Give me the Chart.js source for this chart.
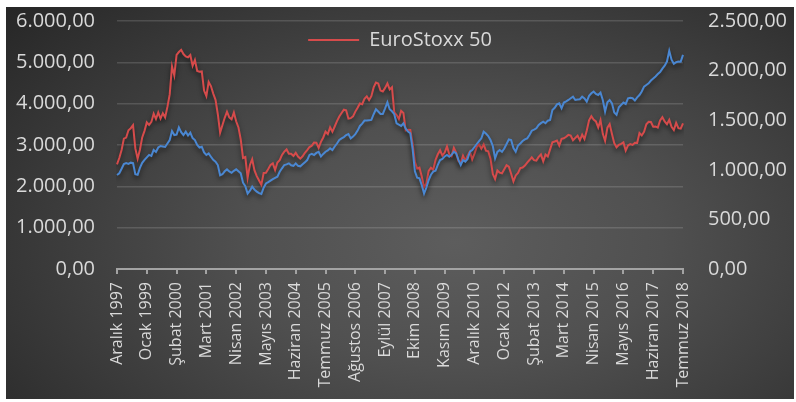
<!DOCTYPE html>
<html lang="tr">
<head>
<meta charset="utf-8">
<title>EuroStoxx 50</title>
<script src="https://cdn.jsdelivr.net/npm/chart.js@4.4.1/dist/chart.umd.min.js"></script>
<style>
  html, body { margin: 0; padding: 0; background: #ffffff; }
  #kutu {
    position: absolute; left: 6px; top: 7px; width: 788px; height: 392px;
    background: radial-gradient(ellipse 75% 90% at 57% 60%, #5d5d5d 0%, #505050 35%, #3a3a3a 70%, #272727 100%);
  }
</style>
</head>
<body>
<div id="kutu"><canvas id="grafik"></canvas></div>
<script>
// --- Veriler (aylık, Aralık 1997 - Temmuz 2018) ---
const ayAdlari = ['Ocak', 'Şubat', 'Mart', 'Nisan', 'Mayıs', 'Haziran', 'Temmuz', 'Ağustos', 'Eylül', 'Ekim', 'Kasım', 'Aralık'];
const baslangicYil = 1997, baslangicAy = 11, aySayisi = 248;
const etiketAdimi = 13; // her 13. ayda bir etiket

// EuroStoxx 50 (sol eksen)
const euroStoxx50 = [
  2532,
  2685, 2878, 3153, 3180, 3358, 3406, 3480, 2918, 2670, 2887, 3183, 3342,
  3547, 3485, 3559, 3757, 3629, 3788, 3638, 3769, 3669, 3922, 4223, 4904,
  4684, 5182, 5249, 5303, 5200, 5145, 5122, 5176, 4915, 5057, 4790, 4772,
  4779, 4318, 4185, 4526, 4426, 4243, 4092, 3744, 3297, 3478, 3658, 3806,
  3670, 3624, 3785, 3574, 3425, 3133, 2686, 2709, 2204, 2518, 2657, 2386,
  2248, 2140, 2036, 2325, 2330, 2419, 2519, 2556, 2395, 2575, 2631, 2760,
  2839, 2893, 2787, 2788, 2736, 2811, 2720, 2671, 2726, 2811, 2877, 2951,
  2984, 3058, 3055, 2930, 3076, 3182, 3326, 3263, 3429, 3320, 3448, 3579,
  3691, 3775, 3854, 3839, 3637, 3649, 3692, 3808, 3899, 4004, 3987, 4120,
  4178, 4088, 4182, 4393, 4513, 4489, 4316, 4295, 4382, 4490, 4346, 4400,
  3792, 3724, 3628, 3826, 3777, 3353, 3367, 3365, 3038, 2591, 2430, 2451,
  2236, 1976, 2071, 2375, 2451, 2401, 2638, 2775, 2872, 2743, 2818, 2966,
  2776, 2728, 2931, 2817, 2610, 2574, 2742, 2623, 2748, 2844, 2650, 2793,
  2954, 3013, 2911, 3012, 2862, 2849, 2670, 2302, 2179, 2385, 2330, 2317,
  2416, 2512, 2477, 2306, 2119, 2264, 2325, 2440, 2454, 2503, 2575, 2636,
  2703, 2634, 2624, 2712, 2770, 2603, 2768, 2721, 2893, 3068, 3086, 3109,
  2989, 3149, 3162, 3198, 3245, 3229, 3116, 3173, 3226, 3114, 3251, 3146,
  3351, 3599, 3697, 3615, 3570, 3424, 3601, 3270, 3101, 3418, 3506, 3268,
  3045, 2946, 3005, 3028, 3063, 2865, 2990, 3023, 3002, 3055, 3052, 3291,
  3231, 3320, 3501, 3560, 3555, 3442, 3449, 3421, 3595, 3674, 3570, 3504,
  3609, 3439, 3362, 3536, 3407, 3396, 3525
];

// Mavi seri (sağ eksen)
const dunyaEndeksi = [
  948,
  965, 1010, 1058, 1068, 1060, 1072, 1068, 955, 950, 1020, 1070, 1100,
  1125, 1150, 1140, 1200, 1180, 1225, 1240, 1235, 1230, 1265, 1300, 1390,
  1350, 1355, 1428, 1380, 1350, 1384, 1345, 1374, 1320, 1300, 1250, 1225,
  1233, 1175, 1149, 1165, 1132, 1100, 1082, 1048, 945, 955, 985, 1004,
  983, 970, 990, 1005, 985, 965, 870, 835, 760, 790, 830, 800,
  780, 765, 756, 820, 862, 875, 890, 905, 918, 930, 980, 1015,
  1048, 1055, 1065, 1045, 1040, 1065, 1040, 1035, 1055, 1075, 1098, 1150,
  1160, 1149, 1170, 1182, 1135, 1160, 1182, 1195, 1216, 1199, 1235, 1265,
  1300, 1317, 1330, 1350, 1361, 1317, 1335, 1360, 1395, 1442, 1465, 1496,
  1496, 1500, 1503, 1560, 1610, 1587, 1563, 1563, 1620, 1681, 1610, 1590,
  1560, 1469, 1455, 1442, 1469, 1415, 1385, 1368, 1210, 985, 920, 914,
  845, 760, 820, 897, 950, 981, 990, 1050, 1098, 1110, 1135, 1149,
  1132, 1150, 1182, 1165, 1100, 1048, 1098, 1082, 1110, 1182, 1199, 1230,
  1260, 1290, 1317, 1384, 1365, 1340, 1300, 1240, 1115, 1180, 1199, 1182,
  1215, 1260, 1307, 1300, 1220, 1182, 1245, 1266, 1290, 1307, 1317, 1350,
  1394, 1405, 1418, 1452, 1470, 1485, 1469, 1495, 1503, 1603, 1625, 1660,
  1670, 1620, 1678, 1690, 1704, 1721, 1737, 1704, 1708, 1711, 1737, 1720,
  1687, 1745, 1771, 1788, 1765, 1754, 1778, 1704, 1587, 1680, 1704, 1670,
  1577, 1553, 1630, 1654, 1678, 1664, 1721, 1725, 1721, 1698, 1730, 1754,
  1790, 1838, 1855, 1872, 1900, 1920, 1940, 1965, 1985, 2020, 2050, 2091,
  2200, 2110, 2068, 2085, 2091, 2090, 2158
];

// Kategoriler: ay etiketleri
const aylar = [];
for (let i = 0; i < aySayisi; i++) {
  const m = baslangicAy + i;
  aylar.push(ayAdlari[m % 12] + ' ' + (baslangicYil + Math.floor(m / 12)));
}

// 6000,00 -> "6.000,00"
function sayiBicim(v) {
  const p = Number(v).toFixed(2).split('.');
  p[0] = p[0].replace(/\B(?=(\d{3})+(?!\d))/g, '.');
  return p.join(',');
}

const yaziRengi = '#d9d9d9';
const yazi = 'Open Sans';

// Çizgilere hafif gölge (Excel görünümü)
const golgeEklentisi = {
  id: 'golge',
  beforeDatasetDraw(chart) {
    const ctx = chart.ctx;
    ctx.save();
    ctx.shadowColor = 'rgba(0,0,0,0.55)';
    ctx.shadowBlur = 5;
    ctx.shadowOffsetY = 3;
  },
  afterDatasetDraw(chart) {
    chart.ctx.restore();
  }
};

// Lejant grafik alanının üstüne biniyor: yerleşimde yer kaplamasın, çizimde görünsün
const lejantEklentisi = {
  id: 'lejantYer',
  beforeInit(chart) {
    const lg = chart.legend;
    if (!lg) return;
    const eski = lg.fit;
    lg.fit = function () {
      eski.call(this);
      this._gercekYukseklik = this.height;
      this.height = 0;
    };
  },
  afterLayout(chart) {
    const lg = chart.legend;
    if (lg && lg._gercekYukseklik) {
      lg.height = lg._gercekYukseklik;
      lg.bottom = lg.top + lg.height;
    }
  }
};

// Eksen genişlikleri sabit, etiket dolgusu grafik alanını küçültmesin
function eksenSabitle(s) {
  s.width = 111;
  s.paddingTop = 0;
  s.paddingBottom = 0;
}

new Chart(document.getElementById('grafik'), {
  type: 'line',
  data: {
    labels: aylar,
    datasets: [
      {
        label: 'EuroStoxx 50',
        data: euroStoxx50,
        yAxisID: 'y',
        borderColor: '#d64b4b',
        backgroundColor: '#d64b4b',
        borderWidth: 2,
        pointRadius: 0,
        tension: 0,
        order: 2
      },
      {
        label: 'Dünya',
        data: dunyaEndeksi,
        yAxisID: 'y2',
        borderColor: '#4a87d2',
        backgroundColor: '#4a87d2',
        borderWidth: 2,
        pointRadius: 0,
        tension: 0,
        order: 1
      }
    ]
  },
  options: {
    responsive: true,
    maintainAspectRatio: false,
    animation: false,
    layout: { padding: { top: 14, left: 0, right: 0, bottom: 0 } },
    scales: {
      x: {
        afterFit: s => { s.height = 130; s.paddingLeft = 0; s.paddingRight = 0; },
        border: { color: '#a3a3a3', width: 2 },
        grid: {
          drawOnChartArea: false,
          drawTicks: true,
          tickLength: 5,
          lineWidth: 2,
          color: c => (c.index % etiketAdimi === 0 ? '#a3a3a3' : 'transparent')
        },
        ticks: {
          autoSkip: false,
          maxRotation: 90,
          minRotation: 90,
          padding: 8,
          color: yaziRengi,
          font: { family: yazi, size: 16 },
          callback: function (val, i) {
            return i % etiketAdimi === 0 ? this.getLabelForValue(val) : '';
          }
        }
      },
      y: {
        position: 'left',
        min: 0, max: 6000,
        afterFit: eksenSabitle,
        border: { display: false },
        grid: { color: 'rgba(255,255,255,0.14)', lineWidth: 1.5, drawTicks: false },
        ticks: {
          stepSize: 1000,
          padding: 22,
          color: yaziRengi,
          font: { family: yazi, size: 20 },
          callback: v => sayiBicim(v)
        }
      },
      y2: {
        position: 'right',
        min: 0, max: 2500,
        afterFit: eksenSabitle,
        border: { display: false },
        grid: { drawOnChartArea: false, drawTicks: false },
        ticks: {
          stepSize: 500,
          padding: 25,
          color: yaziRengi,
          font: { family: yazi, size: 20 },
          callback: v => sayiBicim(v)
        }
      }
    },
    plugins: {
      legend: {
        display: true,
        position: 'top',
        align: 'center',
        labels: {
          color: yaziRengi,
          font: { family: yazi, size: 20 },
          boxWidth: 51,
          boxHeight: 0,
          padding: 9,
          filter: item => item.datasetIndex === 0
        }
      },
      tooltip: { enabled: false }
    }
  },
  plugins: [golgeEklentisi, lejantEklentisi]
});
</script>
</body>
</html>
